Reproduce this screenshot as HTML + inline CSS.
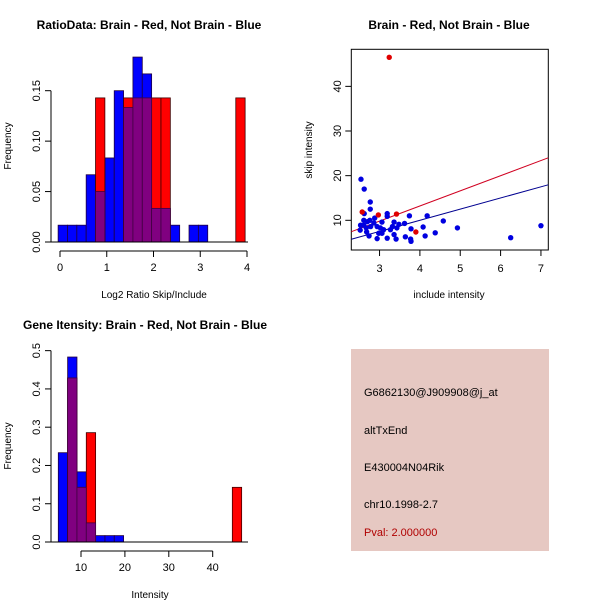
<!DOCTYPE html>
<html><head><meta charset="utf-8"><style>
body{margin:0;background:#fff}
svg{display:block;font-family:"Liberation Sans",Arial,sans-serif}
</style></head><body>
<svg width="600" height="600" viewBox="0 0 600 600">
<g id="p1"></g>
<g id="p2"></g>
<g id="p3"></g>
<g id="p4">
<rect x="351" y="349" width="198" height="202" fill="#e6c8c2"/>
<text x="364" y="396" font-size="11" fill="#000">G6862130@J909908@j_at</text>
<text x="364" y="434" font-size="11" fill="#000">altTxEnd</text>
<text x="364" y="471" font-size="11" fill="#000">E430004N04Rik</text>
<text x="364" y="508" font-size="11" fill="#000">chr10.1998-2.7</text>
<text x="364" y="536" font-size="11" fill="#b00000">Pval: 2.000000</text>
</g>
</svg>
<script>
// ---- Chart 1 data ----
const ratioBinStart = -0.04;
const ratioBinWidth = 0.2;
const ratioBlueFreq = [1/60,1/60,1/60,4/60,3/60,5/60,9/60,8/60,11/60,10/60,2/60,2/60,1/60,0,1/60,1/60,0,0,0,0];
const ratioRedFreq = [0,0,0,0,1/7,0,0,1/7,1/7,1/7,1/7,1/7,0,0,0,0,0,0,0,1/7];
const ratioXTicks = [0,1,2,3,4];
const ratioYTicks = [0,0.05,0.10,0.15];
const ratioYLabels = ["0.00","0.05","0.10","0.15"];
// ---- Chart 2 data ----
const blueX = [2.54,2.62,2.77,2.77,2.62,3.19,3.19,3.74,4.18,4.58,4.93,6.25,7.0,4.08,4.13,4.38,3.78,3.78,3.77,3.64,3.62,3.41,3.36,3.48,3.36,3.43,3.19,3.1,3.06,3.02,2.94,2.98,2.94,2.88,2.86,2.74,2.68,2.61,2.61,2.53,2.52,2.70,2.78,2.67,3.06,3.27,3.32,2.76];
const blueY = [19.2,17.0,14.1,12.5,11.5,11.5,10.9,11.0,11.0,9.85,8.3,6.1,8.8,8.5,6.5,7.2,8.1,5.3,5.8,6.3,9.3,5.8,6.8,9.1,9.6,8.3,6.0,7.9,7.1,8.3,5.9,7.1,8.6,10.5,9.4,6.5,7.4,8.9,10.0,8.9,7.8,9.7,8.6,8.3,9.6,7.9,8.6,10.0];
const redX = [3.24,2.57,2.97,3.42,3.90];
const redY = [46.5,11.86,11.2,11.4,7.38];
const redFit = [-0.35,3.39];   // intercept, slope
const blueFit = [0.0,2.50];
const scatXTicks = [3,4,5,6,7];
const scatYTicks = [10,20,30,40];
// ---- Chart 3 data ----
const intBlueStart = 4.83;
const intBinWidth = 2.125;
const intBlueFreq = [14/60,29/60,11/60,3/60,1/60,1/60,1/60];
const intRedLefts = [6.955,9.08,11.205,44.47];
const intRedFreq = [3/7,1/7,2/7,1/7];
const intXTicks = [10,20,30,40];
const intYTicks = [0,0.1,0.2,0.3,0.4,0.5];

const NS="http://www.w3.org/2000/svg";
function mk(parent,tag,attrs){const e=document.createElementNS(NS,tag);for(const k in attrs)e.setAttribute(k,attrs[k]);parent.appendChild(e);return e;}

function drawHist(g,sx,sy,blue,red,purple){
  blue.forEach(b=>{ if(b.f<=0)return;
    const r=mk(g,'rect',{x:sx(b.lo),y:sy(b.f),width:sx(b.hi)-sx(b.lo),height:sy(0)-sy(b.f),fill:'#0000ff',stroke:'#200040','stroke-width':0.8});
    
    });
  red.forEach(b=>{ if(b.f<=0)return;
    const r=mk(g,'rect',{x:sx(b.lo),y:sy(b.f),width:sx(b.hi)-sx(b.lo),height:sy(0)-sy(b.f),fill:'#ff0000',stroke:'#400000','stroke-width':0.8});
    
    });
  purple.forEach(b=>{ if(b.f<=0)return;
    const r=mk(g,'rect',{x:sx(b.lo),y:sy(b.f),width:sx(b.hi)-sx(b.lo),height:sy(0)-sy(b.f),fill:'#800080',stroke:'#400040','stroke-width':0.8});
    
    });
}
function yAxis(g,x,sy,ticks,labels){
  mk(g,'line',{x1:x,x2:x,y1:sy(ticks[0]),y2:sy(ticks[ticks.length-1]),stroke:'#000'});
  ticks.forEach((t,i)=>{const y=sy(t);
    mk(g,'line',{x1:x-6,x2:x,y1:y,y2:y,stroke:'#000'});
    const tx=mk(g,'text',{x:0,y:0,'font-size':11,'text-anchor':'middle',transform:`translate(${x-11},${y}) rotate(-90)`});
    tx.textContent=labels[i];
    
    });
}
function xAxis(g,y,sx,ticks){
  mk(g,'line',{x1:sx(ticks[0]),x2:sx(ticks[ticks.length-1]),y1:y,y2:y,stroke:'#000'});
  ticks.forEach(t=>{const x=sx(t);
    mk(g,'line',{x1:x,x2:x,y1:y,y2:y+6,stroke:'#000'});
    const tx=mk(g,'text',{x:x,y:y+20,'font-size':11,'text-anchor':'middle'});
    tx.textContent=String(t);
    
    });
}
function label(g,txt,x,y,opts,name){
  const t=mk(g,'text',Object.assign({x:x,y:y,'font-size':10,'text-anchor':'middle'},opts||{}));
  t.textContent=txt;
  
  
}

// ---- Chart 1 ----
(function(){
  const g=document.getElementById('p1');
  const sx=v=>60+46.75*v, sy=v=>242-1008.7*v;
  const blue=[],red=[],pur=[];
  ratioBlueFreq.forEach((f,i)=>{const lo=ratioBinStart+i*ratioBinWidth;blue.push({lo:lo,hi:lo+ratioBinWidth,f:f});});
  ratioRedFreq.forEach((f,i)=>{const lo=ratioBinStart+i*ratioBinWidth;red.push({lo:lo,hi:lo+ratioBinWidth,f:f});
    pur.push({lo:lo,hi:lo+ratioBinWidth,f:Math.min(f,ratioBlueFreq[i]||0)});});
  drawHist(g,sx,sy,blue,red,pur);
  mk(g,'line',{x1:51,x2:248,y1:sy(0),y2:sy(0),stroke:'#000'});
  yAxis(g,51,sy,ratioYTicks,ratioYLabels);
  xAxis(g,251,sx,ratioXTicks);
  label(g,'RatioData: Brain - Red, Not Brain - Blue',149,29,{'font-size':12,'font-weight':'bold'},'chart-title');
  label(g,'Log2 Ratio Skip/Include',154,298,{},'x-axis-title');
  label(g,'Frequency',0,0,{transform:'translate(11,146) rotate(-90)'},'y-axis-title');
})();

// ---- Chart 2 ----
(function(){
  const g=document.getElementById('p2');
  const x0=2.30,y0=3.35;
  const sx=v=>351.3+40.35*(v-x0), sy=v=>250-4.465*(v-y0);
  mk(g,'rect',{x:351.3,y:49.3,width:197,height:200.7,fill:'none',stroke:'#000'});
  const xa=2.30,xb=7.18;
  [[redFit,'#d00020','red-fit-line'],[blueFit,'#000090','blue-fit-line']].forEach(([f,c,n])=>{
    const l=mk(g,'line',{x1:sx(xa),y1:sy(f[0]+f[1]*xa),x2:sx(xb),y2:sy(f[0]+f[1]*xb),stroke:c,'stroke-width':1});
    
    });
  blueX.forEach((v,i)=>{const c=mk(g,'circle',{cx:sx(v),cy:sy(blueY[i]),r:2.7,fill:'#0000e0'});
    
    });
  redX.forEach((v,i)=>{const c=mk(g,'circle',{cx:sx(v),cy:sy(redY[i]),r:2.7,fill:'#e00000'});
    
    });
  scatXTicks.forEach(t=>{const x=sx(t);mk(g,'line',{x1:x,x2:x,y1:250,y2:256,stroke:'#000'});
    const tx=mk(g,'text',{x:x,y:272,'font-size':11,'text-anchor':'middle'});tx.textContent=String(t);
    
    });
  scatYTicks.forEach(t=>{const y=sy(t);mk(g,'line',{x1:345.3,x2:351.3,y1:y,y2:y,stroke:'#000'});
    const tx=mk(g,'text',{x:0,y:0,'font-size':11,'text-anchor':'middle',transform:`translate(341,${y}) rotate(-90)`});tx.textContent=String(t);
    
    });
  label(g,'Brain - Red, Not Brain - Blue',449,29,{'font-size':12,'font-weight':'bold'},'chart-title');
  label(g,'include intensity',449,298,{},'x-axis-title');
  label(g,'skip intensity',0,0,{transform:'translate(312,150) rotate(-90)'},'y-axis-title');
})();

// ---- Chart 3 ----
(function(){
  const g=document.getElementById('p3');
  const sx=v=>37.1+4.39*v, sy=v=>542-382.7*v;
  const blue=[],red=[],pur=[];
  intBlueFreq.forEach((f,i)=>{const lo=intBlueStart+i*intBinWidth;blue.push({lo:lo,hi:lo+intBinWidth,f:f});});
  intRedLefts.forEach((lo,i)=>{const f=intRedFreq[i];red.push({lo:lo,hi:lo+intBinWidth,f:f});
    const bi=Math.round((lo-intBlueStart)/intBinWidth);const bf=(bi>=0&&bi<intBlueFreq.length)?intBlueFreq[bi]:0;
    pur.push({lo:lo,hi:lo+intBinWidth,f:Math.min(f,bf)});});
  drawHist(g,sx,sy,blue,red,pur);
  mk(g,'line',{x1:51,x2:248,y1:sy(0),y2:sy(0),stroke:'#000'});
  yAxis(g,51,sy,intYTicks,intYTicks.map(t=>t.toFixed(1)));
  xAxis(g,551,sx,intXTicks);
  label(g,'Gene Itensity: Brain - Red, Not Brain - Blue',145,329,{'font-size':12,'font-weight':'bold'},'chart-title');
  label(g,'Intensity',150,598,{},'x-axis-title');
  label(g,'Frequency',0,0,{transform:'translate(11,446) rotate(-90)'},'y-axis-title');
})();
</script>
</body></html>
